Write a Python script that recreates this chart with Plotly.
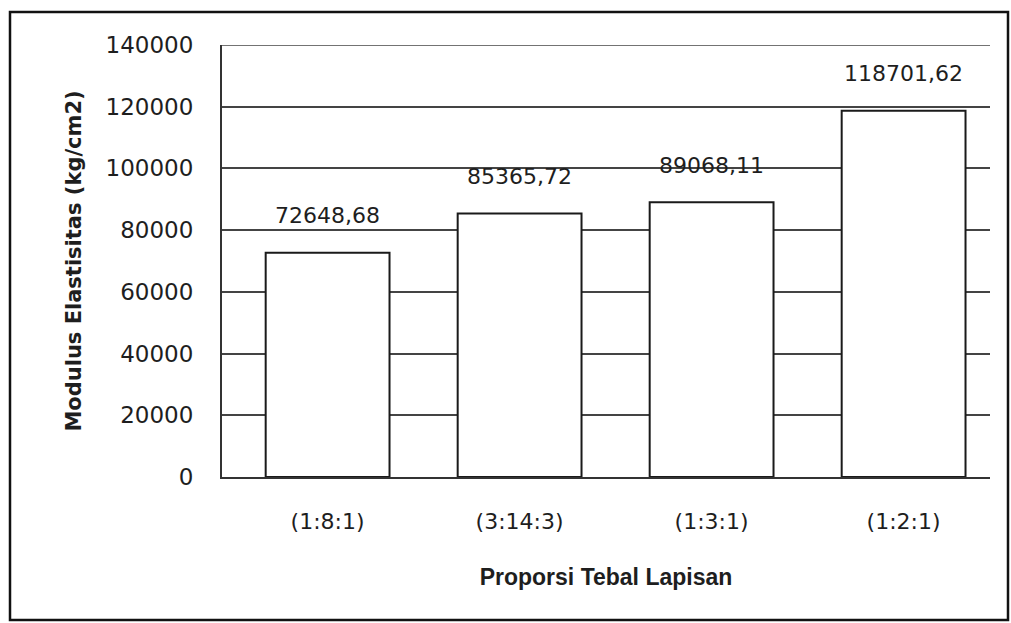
import plotly.graph_objects as go

categories = ["(1:8:1)", "(3:14:3)", "(1:3:1)", "(1:2:1)"]
values = [72648.68, 85365.72, 89068.11, 118701.62]
value_labels = ["72648,68", "85365,72", "89068,11", "118701,62"]
y_ticks = [0, 20000, 40000, 60000, 80000, 100000, 120000, 140000]

# plot area in pixels
W, H = 1011, 623
L, R, T, B = 222, 990, 45, 477
pw, ph = R - L, B - T

def px(x):
    return (x - L) / pw

def py(y):
    return (B - y) / ph

fig = go.Figure()
fig.add_trace(go.Bar(
    x=categories, y=values,
    marker=dict(color="white", line=dict(color="#1a1a1a", width=2)),
    hoverinfo="x+y",
))

for c, v, lab in zip(categories, values, value_labels):
    fig.add_annotation(x=c, y=v, text=lab, showarrow=False,
                       yanchor="middle", yshift=37,
                       font=dict(family="DejaVu Sans", size=22, color="#1e1e1e"))

# top gridline at the axis maximum
fig.add_shape(type="line", xref="paper", yref="y", x0=0, x1=1,
              y0=y_ticks[-1], y1=y_ticks[-1],
              line=dict(color="#444", width=1.5), layer="below")

# outer frame
fig.add_shape(type="rect", xref="paper", yref="paper",
              x0=px(10), x1=px(1008), y0=py(620), y1=py(12),
              line=dict(color="#111", width=2.5), fillcolor="rgba(0,0,0,0)", layer="below")

fig.update_layout(
    width=W, height=H,
    margin=dict(l=L, r=W - R, t=T, b=H - B, pad=0),
    paper_bgcolor="white", plot_bgcolor="white",
    bargap=0.355,
    showlegend=False,
    font=dict(family="DejaVu Sans", size=22, color="#1e1e1e"),
)
fig.update_xaxes(
    range=[-0.55, 3.45],
    showline=True, linecolor="#333", linewidth=2,
    ticks="", showgrid=False,
    tickfont=dict(family="DejaVu Sans", size=22, color="#1e1e1e"),
    ticklabelstandoff=24,
    title=dict(text="<b>Proporsi Tebal Lapisan</b>",
               font=dict(family="Liberation Sans", size=23, color="#1e1e1e"),
               standoff=35),
)
fig.update_yaxes(
    range=[0, 140000], tickvals=y_ticks,
    ticktext=[str(t) for t in y_ticks],
    showline=True, linecolor="#333", linewidth=2,
    showgrid=True, gridcolor="#444", gridwidth=1.5,
    zeroline=False, ticks="",
    tickfont=dict(family="DejaVu Sans", size=23, color="#1e1e1e"),
    ticklabelstandoff=22,
    title=dict(text="<b>Modulus Elastisitas (kg/cm2)</b>",
               font=dict(family="DejaVu Sans", size=21, color="#1e1e1e"),
               standoff=18),
)

fig.write_html("out.html")
